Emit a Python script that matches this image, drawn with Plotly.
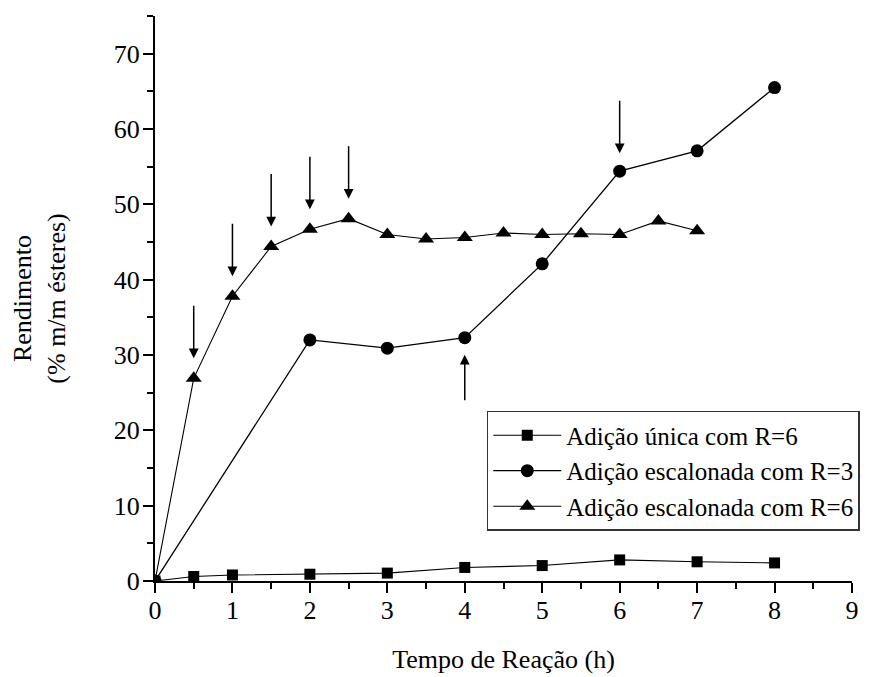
import plotly.graph_objects as go

# ---- data ----
x_unica = [0, 0.5, 1, 2, 3, 4, 5, 6, 7, 8]
y_unica = [0, 0.6, 0.8, 0.9, 1.05, 1.8, 2.05, 2.8, 2.55, 2.4]

x_esc3 = [0, 2, 3, 4, 5, 6, 7, 8]
y_esc3 = [0, 32.0, 30.9, 32.3, 42.1, 54.4, 57.1, 65.5]

x_esc6 = [0, 0.5, 1, 1.5, 2, 2.5, 3, 3.5, 4, 4.5, 5, 5.5, 6, 6.5, 7]
y_esc6 = [0, 26.9, 37.8, 44.4, 46.7, 48.1, 46.0, 45.4, 45.6, 46.2, 46.0, 46.1, 46.0, 47.8, 46.5]

names = ["Adição única com R=6", "Adição escalonada com R=3", "Adição escalonada com R=6"]

# arrows marking the additions (x position, series)
arrows_down_esc6 = [0.5, 1, 1.5, 2, 2.5]
arrows_down_esc3 = [6]
arrows_up_esc3 = [4]

x_ticks = list(range(0, 10))
y_ticks = list(range(0, 80, 10))

FONT = "Liberation Serif, Times New Roman, Times, serif"

fig = go.Figure()
fig.add_trace(go.Scatter(x=x_unica, y=y_unica, name=names[0], mode="lines+markers",
                         line=dict(color="black", width=1.1),
                         marker=dict(symbol="square", size=11, color="black")))
fig.add_trace(go.Scatter(x=x_esc3, y=y_esc3, name=names[1], mode="lines+markers",
                         line=dict(color="black", width=1.3),
                         marker=dict(symbol="circle", size=13, color="black")))
fig.add_trace(go.Scatter(x=x_esc6, y=y_esc6, name=names[2], mode="lines+markers",
                         line=dict(color="black", width=1.1),
                         marker=dict(symbol="triangle-up", size=14, color="black")))

def yval(xs, ys, x):
    return ys[xs.index(x)]

annots = []
for xv in arrows_down_esc6:
    annots.append(dict(x=xv, y=yval(x_esc6, y_esc6, xv), ax=0, ay=-74, standoff=20))
for xv in arrows_down_esc3:
    annots.append(dict(x=xv, y=yval(x_esc3, y_esc3, xv), ax=0, ay=-72, standoff=18))
for xv in arrows_up_esc3:
    annots.append(dict(x=xv, y=yval(x_esc3, y_esc3, xv), ax=0, ay=64, standoff=17))
for a in annots:
    a.update(xref="x", yref="y", axref="pixel", ayref="pixel", showarrow=True, text="",
             arrowhead=2, arrowsize=1.3, arrowwidth=1.5, arrowcolor="black")
    fig.add_annotation(**a)

axis_common = dict(showline=True, linecolor="black", linewidth=2, showgrid=False,
                   zeroline=False, ticks="outside", ticklen=10, tickwidth=2,
                   tickcolor="black", mirror=False,
                   tickfont=dict(family=FONT, size=26, color="black"))

fig.update_xaxes(range=[0, 9], tickvals=x_ticks, ticktext=[str(v) for v in x_ticks],
                 minor=dict(dtick=0.5, tick0=0, ticks="outside", ticklen=6, tickwidth=2, tickcolor="black"),
                 ticklabelstandoff=-5,
                 title=dict(text="Tempo de Reação (h)", font=dict(family=FONT, size=26, color="black"), standoff=26),
                 **axis_common)
fig.update_yaxes(range=[0, 75], tickvals=y_ticks, ticktext=[str(v) for v in y_ticks],
                 minor=dict(dtick=5, tick0=0, ticks="outside", ticklen=6, tickwidth=2, tickcolor="black"),
                 ticklabelstandoff=-2,
                 title=dict(text="Rendimento<br>(% m/m ésteres)", font=dict(family=FONT, size=26, color="black"), standoff=42),
                 **axis_common)

fig.update_layout(
    width=872, height=677,
    margin=dict(l=147, r=28, t=8, b=104, autoexpand=False),
    plot_bgcolor="white", paper_bgcolor="white",
    font=dict(family=FONT, color="black"),
    legend=dict(x=0.476, y=0.301, xanchor="left", yanchor="top",
                bordercolor="#333333", borderwidth=1.5, bgcolor="white",
                font=dict(family=FONT, size=25, color="black"),
                itemwidth=68, tracegroupgap=0),
)

fig.write_html("out.html")
